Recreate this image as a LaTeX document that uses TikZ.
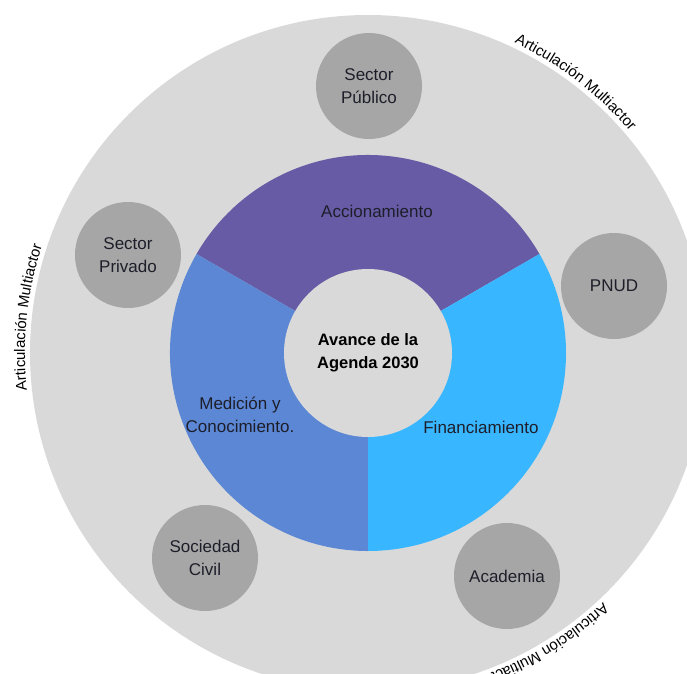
\documentclass[tikz,border=0pt]{standalone}
\usepackage{fontspec}
\setmainfont{Liberation Sans}
\usetikzlibrary{decorations.text}
\definecolor{ringgrey}{HTML}{D9D9D9}
\definecolor{actorgrey}{HTML}{A6A6A6}
\definecolor{accion}{HTML}{675BA6}
\definecolor{medicion}{HTML}{5B87D5}
\definecolor{financ}{HTML}{38B6FF}
\definecolor{ink}{HTML}{1E1E2A}
\begin{document}
\begin{tikzpicture}[x=1pt,y=1pt,
  actor/.style={circle,fill=actorgrey,minimum size=106pt,inner sep=0pt,align=center,text=ink,font=\fontsize{17}{23}\selectfont},
  segtext/.style={align=center,text=ink,font=\fontsize{17}{23}\selectfont},
  arctext/.style={decorate,decoration={text along path,text align=center,text={|\fontsize{15}{18}\selectfont|#1}}}]
  \clip (-368,-320) rectangle (319,353);
  \fill[ringgrey] (0,0) circle[radius=338];
  \fill[accion] (0,0) -- (30:198) arc[start angle=30,end angle=150,radius=198] -- cycle;
  \fill[medicion] (0,0) -- (150:198) arc[start angle=150,end angle=270,radius=198] -- cycle;
  \fill[financ] (0,0) -- (270:198) arc[start angle=270,end angle=390,radius=198] -- cycle;
  \node[circle,fill=ringgrey,minimum size=168pt,inner sep=0pt,align=center,font=\bfseries\fontsize{16.5}{23}\selectfont] (hub) at (0,0) {Avance de la\\Agenda 2030};
  \node[segtext] (accionamiento) at (9,142) {Accionamiento};
  \node[segtext] (medicion) at (-128,-62) {Medición y\\Conocimiento.};
  \node[segtext] (financiamiento) at (113,-74) {Financiamiento};
  \node[actor] (publico) at (1,267) {Sector\\Público};
  \node[actor] (privado) at (-240,98) {Sector\\Privado};
  \node[actor] (pnud) at (246,67) {PNUD};
  \node[actor] (sociedad) at (-163,-205) {Sociedad\\Civil};
  \node[actor] (academia) at (139,-223) {Academia};
  \path[arctext={Articulación Multiactor}] (80:343) arc[start angle=80,end angle=25,radius=343];
  \path[arctext={Articulación Multiactor}] (200:343) arc[start angle=200,end angle=148,radius=343];
  \path[arctext={Articulación Multiactor}] (-32:343) arc[start angle=-32,end angle=-86,radius=343];
\end{tikzpicture}
\end{document}
